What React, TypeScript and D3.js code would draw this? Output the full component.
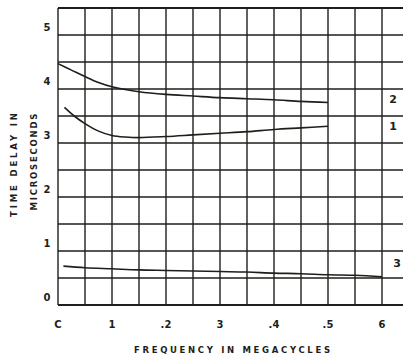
import React from "react";
import * as d3 from "d3";

const xTickValues = [0, 1, 2, 3, 4, 5, 6];
const xTickLabels = ["C", "1", ".2", "3", ".4", ".5", "6"];
const yTickValues = [0, 1, 2, 3, 4, 5];
const yTickLabels = ["0", "1", "2", "3", "4", "5"];

const curve2X = [0, 0.25, 0.5, 0.75, 1, 1.5, 2, 2.5, 3, 3.5, 4, 4.5, 5];
const curve2Y = [4.47, 4.35, 4.23, 4.12, 4.04, 3.95, 3.9, 3.87, 3.84, 3.82, 3.8, 3.77, 3.75];

const curve1X = [0.12, 0.3, 0.5, 0.75, 1.0, 1.25, 1.5, 2, 2.5, 3, 3.5, 4, 4.5, 5];
const curve1Y = [3.66, 3.5, 3.36, 3.22, 3.14, 3.11, 3.1, 3.12, 3.15, 3.18, 3.21, 3.25, 3.28, 3.31];

const curve3X = [0.1, 0.5, 1, 1.5, 2, 2.5, 3, 3.5, 4, 4.5, 5, 5.5, 6];
const curve3Y = [0.72, 0.69, 0.67, 0.65, 0.64, 0.63, 0.62, 0.61, 0.59, 0.58, 0.56, 0.55, 0.52];

const curveLabels = ["2", "1", "3"];
const curveLabelY = [3.75, 3.25, 0.65];

export default function App() {
  const W = 403;
  const H = 359;
  const x = d3.scaleLinear().domain([0, 6.5]).range([58, 409]);
  const y = d3.scaleLinear().domain([0, 5.5]).range([305, 8]);
  const gridX = d3.range(0, 6.51, 0.5);
  const gridY = d3.range(0, 5.51, 0.5);
  const line = d3
    .line<[number, number]>()
    .x((d) => x(d[0]))
    .y((d) => y(d[1]))
    .curve(d3.curveCatmullRom.alpha(0.5));
  const series = [
    curve2X.map((v, i) => [v, curve2Y[i]] as [number, number]),
    curve1X.map((v, i) => [v, curve1Y[i]] as [number, number]),
    curve3X.map((v, i) => [v, curve3Y[i]] as [number, number]),
  ];
  const ink = "#1e1e1a";
  const font = "'DejaVu Sans', sans-serif";
  return (
    <svg
      width={W}
      height={H}
      style={{ position: "absolute", left: 0, top: 0, background: "#ffffff" }}
    >
      <rect x={0} y={0} width={W} height={H} fill="#ffffff" />
      <g>
        {gridX.map((v) => (
          <line
            key={"gx" + v}
            x1={x(v)}
            x2={x(v)}
            y1={y(5.5)}
            y2={y(0)}
            stroke={ink}
            strokeWidth={1.4}
          />
        ))}
        {gridY.map((v) => (
          <line
            key={"gy" + v}
            x1={x(0)}
            x2={W}
            y1={y(v)}
            y2={y(v)}
            stroke={ink}
            strokeWidth={v === 0 || v === 5.5 ? 1.8 : 1.4}
          />
        ))}
      </g>
      <g>
        {series.map((s, i) => (
          <path
            key={"s" + i}
            d={line(s) || ""}
            fill="none"
            stroke={ink}
            strokeWidth={1.6}
          />
        ))}
      </g>
      <g fontFamily={font} fontWeight="bold" fontSize={10} fill={ink}>
        {xTickValues.map((v, i) => (
          <text key={"xt" + v} x={x(v)} y={328} textAnchor="middle">
            {xTickLabels[i]}
          </text>
        ))}
        {yTickValues.map((v, i) => (
          <text key={"yt" + v} x={47} y={y(v) - 4} textAnchor="middle">
            {yTickLabels[i]}
          </text>
        ))}
        {curveLabels.map((t, i) => (
          <text
            key={"cl" + i}
            x={i === 2 ? 397 : 393}
            y={y(curveLabelY[i]) + (i === 2 ? -3 : 0)}
            textAnchor="middle"
            fontSize={11}
          >
            {t}
          </text>
        ))}
      </g>
      <g fontFamily={font} fontSize={8.5} fontWeight="bold" fill={ink}>
        <text x={232} y={353} textAnchor="middle" textLength={196} lengthAdjust="spacing">
          FREQUENCY IN MEGACYCLES
        </text>
        <text
          transform="translate(17,165) rotate(-90)"
          textAnchor="middle"
          textLength={104}
          lengthAdjust="spacing"
        >
          TIME DELAY IN
        </text>
        <text
          transform="translate(37,162) rotate(-90)"
          textAnchor="middle"
          textLength={97}
          lengthAdjust="spacing"
        >
          MICROSECONDS
        </text>
      </g>
    </svg>
  );
}
